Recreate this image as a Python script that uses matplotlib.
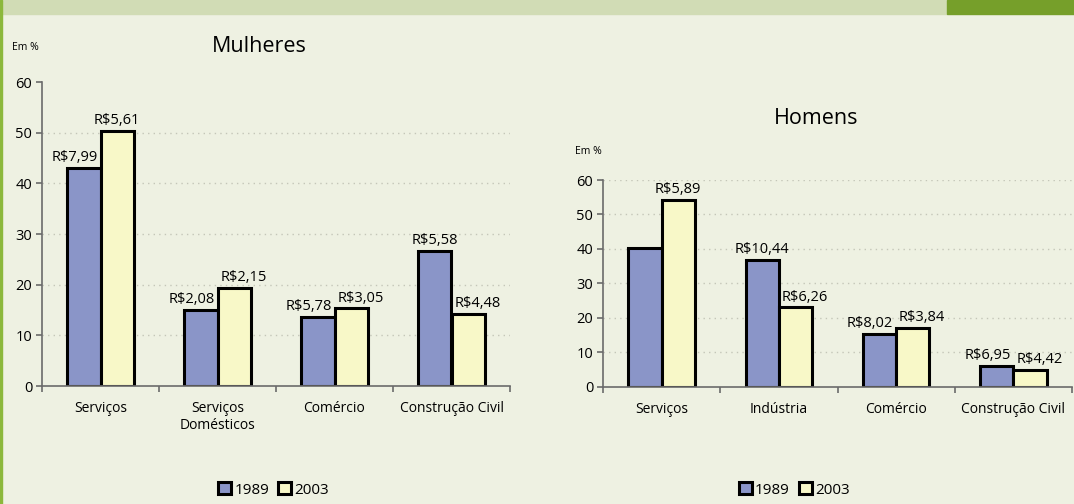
import matplotlib
matplotlib.use("Agg")
import matplotlib.pyplot as plt
from matplotlib.patches import Patch, Rectangle
import numpy as np

plt.rcParams['font.family'] = ['Open Sans', 'DejaVu Sans']

# ---- data -------------------------------------------------------------
years = ["1989", "2003"]

cat_mulheres = ["Serviços", "Serviços\nDomésticos", "Comércio", "Construção Civil"]
pct_mulheres_1989 = [43.0, 15.0, 13.7, 26.7]
pct_mulheres_2003 = [50.4, 19.3, 15.3, 14.2]
renda_mulheres_1989 = ["R$7,99", "R$2,08", "R$5,78", "R$5,58"]
renda_mulheres_2003 = ["R$5,61", "R$2,15", "R$3,05", "R$4,48"]

cat_homens = ["Serviços", "Indústria", "Comércio", "Construção Civil"]
pct_homens_1989 = [40.2, 36.8, 15.3, 6.0]
pct_homens_2003 = [54.3, 23.0, 17.0, 4.9]
renda_homens_1989 = [None, "R$10,44", "R$8,02", "R$6,95"]
renda_homens_2003 = ["R$5,89", "R$6,26", "R$3,84", "R$4,42"]

yticks = [0, 10, 20, 30, 40, 50, 60]

# ---- style ------------------------------------------------------------
BG = "#EEF1E2"
BAND = "#D1DCB5"
BAND_DARK = "#769F2A"
EDGE_GREEN = "#8CB83C"
BLUE = "#8A95C8"
YELLOW = "#F8F8C8"
AXIS = "#6B6B6B"
GRID = "#C4C6B8"
BAR_W = 0.283

fig = plt.figure(figsize=(10.74, 5.04), dpi=100, facecolor=BG)

# page decoration: top band and left rule
fig.patches.append(Rectangle((0, 1 - 14 / 504), 947 / 1074, 14 / 504,
                             transform=fig.transFigure, color=BAND, zorder=0))
fig.patches.append(Rectangle((947 / 1074, 1 - 14 / 504), 1 - 947 / 1074, 14 / 504,
                             transform=fig.transFigure, color=BAND_DARK, zorder=0))
fig.patches.append(Rectangle((0, 0), 2 / 1074, 1,
                             transform=fig.transFigure, color=EDGE_GREEN, zorder=1))


def panel(rect, cats, v1, v2, lab1, lab2, grid_vals):
    ax = fig.add_axes(rect)
    ax.set_facecolor("none")
    x = np.arange(len(cats))
    ax.bar(x - BAR_W / 2, v1, BAR_W, color=BLUE, edgecolor="black",
           linewidth=2.2, zorder=3)
    ax.bar(x + BAR_W / 2, v2, BAR_W, color=YELLOW, edgecolor="black",
           linewidth=2.2, zorder=3)

    for xi, a, b, la, lb in zip(x, v1, v2, lab1, lab2):
        if la is not None:
            if a < b + 5:
                ax.annotate(la, (xi, a), xytext=(-2, 2), textcoords="offset points",
                            ha="right", va="bottom", fontsize=10.5)
            else:
                ax.annotate(la, (xi - BAR_W / 2, a), xytext=(0, 2),
                            textcoords="offset points", ha="center", va="bottom",
                            fontsize=10.5)
        if lb is not None:
            if b < a + 5:
                ax.annotate(lb, (xi, b), xytext=(2, 2), textcoords="offset points",
                            ha="left", va="bottom", fontsize=10.5)
            else:
                ax.annotate(lb, (xi + BAR_W / 2, b), xytext=(0, 2),
                            textcoords="offset points", ha="center", va="bottom",
                            fontsize=10.5)

    ax.set_xlim(-0.5, len(cats) - 0.5)
    ax.set_ylim(0, 60)
    ax.set_yticks(yticks)
    ax.tick_params(axis="y", length=4, width=1.2, color=AXIS, pad=3,
                   labelsize=10.5)
    ax.set_xticks(np.arange(len(cats) + 1) - 0.5)
    ax.set_xticklabels([])
    ax.tick_params(axis="x", which="major", length=4, width=1.2, color=AXIS)
    ax.set_xticks(x, minor=True)
    ax.set_xticklabels(cats, minor=True, fontsize=10, linespacing=1.2, va="top")
    ax.tick_params(axis="x", which="minor", length=0, pad=11)

    for v in grid_vals:
        ax.axhline(v, color=GRID, linestyle=(0, (1, 3)), linewidth=1, zorder=1)

    for s in ("top", "right"):
        ax.spines[s].set_visible(False)
    for s in ("left", "bottom"):
        ax.spines[s].set_color(AXIS)
        ax.spines[s].set_linewidth(1.2)
        ax.spines[s].set_zorder(4)
    return ax


panel([42 / 1074, 118 / 504, 468 / 1074, 304 / 504], cat_mulheres,
      pct_mulheres_1989, pct_mulheres_2003, renda_mulheres_1989,
      renda_mulheres_2003, [10, 20, 30, 40, 50])
panel([603 / 1074, 117.3 / 504, 469 / 1074, 206.7 / 504], cat_homens,
      pct_homens_1989, pct_homens_2003, renda_homens_1989,
      renda_homens_2003, [10, 20, 30, 40, 50, 60])

fig.text(259 / 1074, 1 - 47 / 504, "Mulheres", ha="center", va="center", fontsize=15.5)
fig.text(816 / 1074, 1 - 118 / 504, "Homens", ha="center", va="center", fontsize=15.5)
fig.text(12 / 1074, 1 - 48 / 504, "Em %", ha="left", va="center", fontsize=7.5)
fig.text(575 / 1074, 1 - 152 / 504, "Em %", ha="left", va="center", fontsize=7.5)

handles = [Patch(facecolor=BLUE, edgecolor="black", linewidth=2.2),
           Patch(facecolor=YELLOW, edgecolor="black", linewidth=2.2)]
for cx in (273.5 / 1074, 794 / 1074):
    fig.legend(handles, years, loc="center", bbox_to_anchor=(cx, 14 / 504),
               ncol=2, frameon=False, fontsize=11, handlelength=0.85,
               handleheight=0.85, handletextpad=0.2, columnspacing=0.6,
               borderpad=0)

fig.savefig("out.png", dpi=100, facecolor=BG)
